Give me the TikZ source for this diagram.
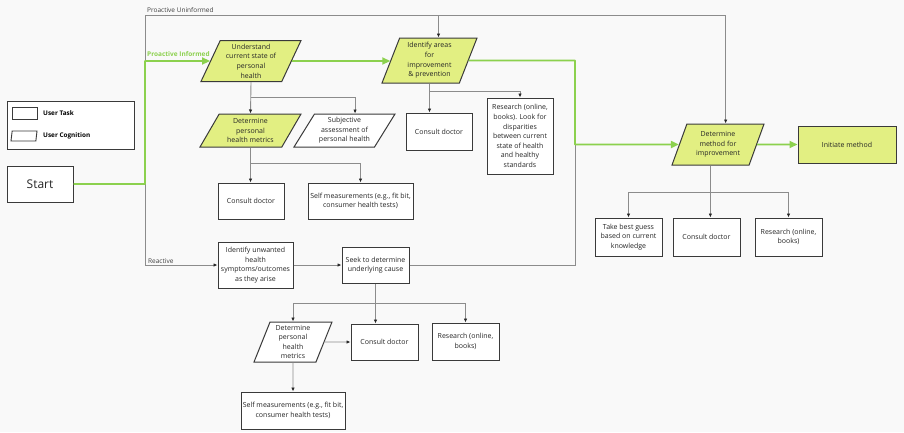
\documentclass[tikz,border=0pt]{standalone}
\usepackage{fontspec}
\setmainfont{Open Sans}
\usetikzlibrary{shapes.geometric,arrows.meta,calc}
\definecolor{hg}{HTML}{F9F9F9}
\definecolor{rand}{HTML}{3A3A3A}
\definecolor{linie}{HTML}{8C8C8C}
\definecolor{gruen}{HTML}{8CD14E}
\definecolor{fuell}{HTML}{E2EF82}

\begin{document}
\begin{tikzpicture}[x=1pt,y=-1pt,
  aufgabe/.style={rectangle,draw=rand,line width=1pt,fill=white,align=center,inner sep=1pt,text=black!85,font=\fontsize{7}{9.6}\selectfont},
  denken/.style 2 args={trapezium,trapezium stretches body,trapezium left angle=#1,trapezium right angle=#2,draw=rand,line width=1pt,fill=white,align=center,inner sep=1pt,text=black!85,font=\fontsize{7}{9.6}\selectfont},
  pfeil/.style={draw=linie,line width=0.9pt,-{Latex[length=4pt,width=3.5pt,color=black!85]}},
  strich/.style={draw=linie,line width=0.9pt},
  gpfeil/.style={draw=gruen,line width=1.8pt,line join=round,-{Triangle[length=8pt,width=7pt]}},
  beschr/.style={inner sep=0pt,text=black!75,font=\fontsize{6.5}{8}\selectfont}]
\fill[hg] (0,0) rectangle (904,432);
\useasboundingbox (0,0) rectangle (904,432);
\node[draw=rand,line width=1pt,fill=white,minimum width=127,minimum height=48] (L) at (70.5,125) {};
\node[aufgabe,line width=0.9pt,minimum width=25,minimum height=12] (L1) at (24.5,113) {};
\node[denken={60}{120},line width=0.9pt,minimum width=26,minimum height=10] (L2) at (24,136) {};
\node[beschr,anchor=west,text=black,font=\fontsize{6.4}{7}\selectfont\bfseries] (T1) at (43,113) {User Task};
\node[beschr,anchor=west,text=black,font=\fontsize{6.4}{7}\selectfont\bfseries] (T2) at (43,136) {User Cognition};
\node[aufgabe,minimum width=66,minimum height=36,font=\fontsize{12}{14}\selectfont] (S) at (40,184) {Start};
\node[denken={62}{118},fill=fuell,minimum width=100,minimum height=41] (U) at (251,61) {Understand\\current state of\\personal\\health};
\node[denken={65}{115},fill=fuell,minimum width=95,minimum height=45] (I) at (429.5,60.5) {Identify areas\\for\\improvement\\\& prevention};
\node[denken={62}{118},fill=fuell,minimum width=92,minimum height=41] (M) at (718,144.5) {Determine\\method for\\improvement};
\node[aufgabe,fill=fuell,minimum width=98,minimum height=37] (N) at (847,144.5) {Initiate method};
\node[denken={54}{126},fill=fuell,minimum width=101,minimum height=33] (D) at (250.5,130.5) {Determine\\personal\\health metrics};
\node[denken={54}{126},minimum width=101,minimum height=33] (J) at (344.5,130.5) {Subjective\\assessment of\\personal health};
\node[aufgabe,minimum width=66,minimum height=36] (C1) at (251,201) {Consult doctor};
\node[aufgabe,minimum width=105,minimum height=36] (E1) at (360.5,201) {Self measurements (e.g., fit bit,\\consumer health tests)};
\node[aufgabe,minimum width=66,minimum height=37] (C2) at (439,131.5) {Consult doctor};
\node[aufgabe,minimum width=66,minimum height=76] (R2) at (520,136) {Research (online,\\books). Look for\\disparities\\between current\\state of health\\and healthy\\standards};
\node[aufgabe,minimum width=67,minimum height=38] (G) at (628.5,237) {Take best guess\\based on current\\knowledge};
\node[aufgabe,minimum width=67,minimum height=38] (C4) at (706.5,237) {Consult doctor};
\node[aufgabe,minimum width=67,minimum height=38] (R4) at (788.5,237) {Research (online,\\books)};
\node[aufgabe,minimum width=75,minimum height=46] (H) at (255.5,265) {Identify unwanted\\health\\symptoms/outcomes\\as they arise};
\node[aufgabe,minimum width=67,minimum height=36] (K) at (375.5,265) {Seek to determine\\underlying cause};
\node[denken={66}{114},minimum width=78,minimum height=40] (D3) at (293,342) {Determine\\personal\\health\\metrics};
\node[aufgabe,minimum width=67,minimum height=36] (C3) at (384.5,342) {Consult doctor};
\node[aufgabe,minimum width=67,minimum height=37] (R3) at (465.5,341.5) {Research (online,\\books)};
\node[aufgabe,minimum width=104,minimum height=37] (E3) at (293,410.5) {Self measurements (e.g., fit bit,\\consumer health tests)};
\node[beschr,anchor=base west] (P1) at (147,12.5) {Proactive Uninformed};
\node[beschr,anchor=base west,text=gruen,font=\fontsize{6.5}{8}\selectfont\bfseries] (P2) at (147,56) {Proactive Informed};
\node[beschr,anchor=base west] (P3) at (148,263.5) {Reactive};
\coordinate (j1) at (145,184);
\coordinate (j2) at (145,61);
\coordinate (pu) at (145,15);
\coordinate (j3) at (575,144.5);
\coordinate (It) at ($(I.top left corner)!.5!(I.top right corner)$);
\coordinate (Mt) at ($(M.top left corner)!.5!(M.top right corner)$);
\coordinate (Mb) at ($(M.bottom left corner)!.5!(M.bottom right corner)$);
\coordinate (Jt) at ($(J.top left corner)!.5!(J.top right corner)$);
\coordinate (b1) at ($(U.south)+(0,15.5)$);
\coordinate (b2) at ($(D.south)+(0,16)$);
\coordinate (b3) at ($(I.south)+(0,8)$);
\coordinate (b4) at ($(Mb)+(0,27)$);
\coordinate (b5) at ($(K.south)+(0,20)$);
\draw[pfeil] (j2) -- (pu) -| (Mt);
\draw[pfeil] (It |- pu) -- (It);
\draw[pfeil] (j1) |- (H.west);
\draw[pfeil] (H) -- (K);
\draw[strich] (K.east) -| (j3);
\draw[pfeil] (U.south) -- (D.north);
\draw[pfeil] (b1) -| (Jt);
\draw[pfeil] (D.south) -- (D.south |- C1.north);
\draw[pfeil] (b2) -| (E1.north);
\draw[pfeil] (I.south) -- (I.south |- C2.north);
\draw[pfeil] (b3) -| (R2.north);
\draw[pfeil] (Mb) -- (Mb |- C4.north);
\draw[pfeil] (b4) -| (G.north);
\draw[pfeil] (b4) -| (R4.north);
\draw[pfeil] (K.south) -- (K.south |- C3.north);
\draw[pfeil] (b5) -| (D3.north);
\draw[pfeil] (b5) -| (R3.north);
\draw[pfeil] (D3.east) -- (C3.west);
\draw[pfeil] (D3.south) -- (E3.north);
\draw[gpfeil] (S.east) -- (j1) -- (j2) -- (U.west);
\draw[gpfeil] (U.east) -- (U.east -| I.west);
\draw[gpfeil] (I.east) -| (j3) -- (M.west);
\draw[gpfeil] (M.east) -- (N.west);
\end{tikzpicture}
\end{document}
